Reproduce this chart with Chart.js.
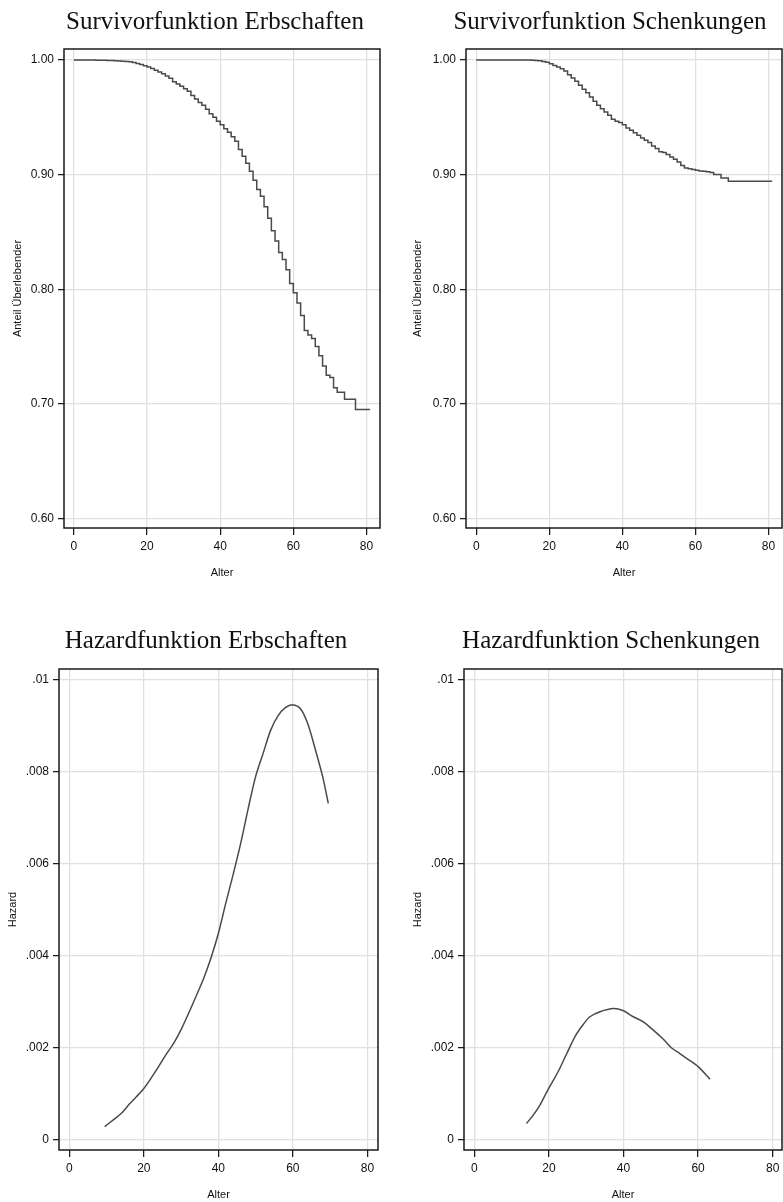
<!DOCTYPE html>
<html>
<head>
<meta charset="utf-8">
<script src="https://cdn.jsdelivr.net/npm/chart.js@4.4.0/dist/chart.umd.min.js"></script>
<style>
  html, body { margin: 0; padding: 0; background: #fff; overflow: hidden; }
  #wrap { position: relative; width: 783px; height: 1202px; overflow: hidden; }
  canvas { position: absolute; }
</style>
</head>
<body>
<div id="wrap">
  <canvas id="survErb" width="430" height="590" style="left:0;top:0"></canvas>
  <canvas id="survSch" width="420" height="590" style="left:400px;top:0"></canvas>
  <canvas id="hazErb" width="412" height="602" style="left:0;top:600px"></canvas>
  <canvas id="hazSch" width="422" height="602" style="left:400px;top:600px"></canvas>
</div>
<script>
// ages 0..81 for the Kaplan-Meier steps
let survAges = [0,1,2,3,4,5,6,7,8,9,10,11,12,13,14,15,16,17,18,19,20,
  21,22,23,24,25,26,27,28,29,30,31,32,33,34,35,36,37,38,39,40,
  41,42,43,44,45,46,47,48,49,50,51,52,53,54,55,56,57,58,59,60,
  61,62,63,64,65,66,67,68,69,70,71,72,73,74,75,76,77,78,79,80,81]

let survErbschaften = [1.0000,1.0000,1.0000,1.0000,1.0000,0.9999,0.9999,0.9998,0.9998,0.9997,0.9996,
  0.9995,0.9994,0.9992,0.9990,0.9988,0.9984,0.9979,0.9970,0.9960,0.9950,
  0.9940,0.9925,0.9910,0.9895,0.9880,0.9860,0.9840,0.9810,0.9790,0.9770,
  0.9750,0.9727,0.9690,0.9660,0.9630,0.9605,0.9570,0.9530,0.9500,0.9466,
  0.9436,0.9400,0.9370,0.9330,0.9290,0.9220,0.9160,0.9100,0.9030,0.8950,
  0.8870,0.8810,0.8720,0.8620,0.8510,0.8420,0.8320,0.8260,0.8170,0.8050,
  0.7970,0.7880,0.7770,0.7640,0.7600,0.7570,0.7500,0.7420,0.7330,0.7250,
  0.7230,0.7140,0.7100,0.7100,0.7040,0.7040,0.7040,0.6950,0.6950,0.6950,0.6950]

let survSchenkungen = [1.0000,1.0000,1.0000,1.0000,1.0000,1.0000,1.0000,1.0000,1.0000,1.0000,1.0000,
  1.0000,1.0000,1.0000,1.0000,0.9999,0.9998,0.9996,0.9993,0.9988,0.9980,
  0.9968,0.9953,0.9939,0.9924,0.9904,0.9872,0.9843,0.9814,0.9780,0.9745,
  0.9715,0.9677,0.9640,0.9605,0.9575,0.9547,0.9518,0.9483,0.9465,0.9454,
  0.9436,0.9407,0.9387,0.9366,0.9343,0.9320,0.9300,0.9280,0.9250,0.9227,
  0.9200,0.9192,0.9175,0.9154,0.9134,0.9110,0.9080,0.9058,0.9052,0.9044,
  0.9038,0.9032,0.9030,0.9024,0.9018,0.9000,0.9000,0.8971,0.8971,0.8943,
  0.8943,0.8943,0.8943,0.8943,0.8943,0.8943,0.8943,0.8943,0.8943,0.8943,0.8943]

let hazErbAges = [9.5,12,14,16,18,20,22,24,26,28,30,32,34,36,38,40,42,44,46,48,50,52,54,56,58,60,62,64,66,68,69.5]
let hazErbschaften = [0.00029,0.00045,0.00058,0.00077,0.00094,0.00112,0.00135,0.00160,0.00186,0.00210,
  0.00240,0.00275,0.00312,0.00350,0.00395,0.00449,0.00515,0.00578,0.00645,0.00720,
  0.00790,0.00840,0.00890,0.00922,0.00940,0.00946,0.00938,0.00905,0.00850,0.00790,0.00732]

let hazSchAges = [14,15.8,17.6,19.8,22.5,24.8,27,29.1,31,33.7,37.3,40,42.6,45.3,48,50.7,52.9,55.1,57.4,60.1,63.2]
let hazSchenkungen = [0.00036,0.00054,0.00076,0.00110,0.00149,0.00188,0.00225,0.00250,0.00268,0.00279,
  0.00286,0.00281,0.00268,0.00257,0.00239,0.00219,0.00200,0.00188,0.00175,0.00159,0.00132]

let xTicks = [0, 20, 40, 60, 80]
let survTicks = [0.6, 0.7, 0.8, 0.9, 1.0]
let survTickLabels = ["0.60", "0.70", "0.80", "0.90", "1.00"]
let hazTicks = [0, 0.002, 0.004, 0.006, 0.008, 0.01]
let hazTickLabels = ["0", ".002", ".004", ".006", ".008", ".01"]

let lineColor = "#4a4a4a"
let gridColor = "#e0e0e0"

let frame = {
  id: "frame",
  afterDraw(chart) {
    let a = chart.chartArea
    let ctx = chart.ctx
    ctx.save()
    ctx.strokeStyle = "#1a1a1a"
    ctx.lineWidth = 1.5
    ctx.strokeRect(a.left, a.top, a.right - a.left, a.bottom - a.top)
    ctx.restore()
  }
}

function labelFor(ticks, labels) {
  return (v) => {
    let i = ticks.findIndex(t => Math.abs(t - v) < 1e-9)
    return i < 0 ? "" : labels[i]
  }
}

// the empty right axis ("spacer") widens the title box so the title sits where Stata put it
function makePanel(p) {
  let points = p.xs.map((x, i) => ({ x: x, y: p.ys[i] }))
  return new Chart(document.getElementById(p.id), {
    type: "line",
    data: {
      datasets: [{
        data: points,
        borderColor: lineColor,
        borderWidth: 1.5,
        pointRadius: 0,
        stepped: p.stepped ? "after" : false,
        tension: p.stepped ? 0 : 0.3,
        fill: false,
      }]
    },
    options: {
      responsive: false,
      animation: false,
      layout: { padding: 0 },
      plugins: {
        legend: { display: false },
        tooltip: { enabled: false },
        title: {
          display: true,
          text: p.title,
          color: "#111",
          font: { family: "'Liberation Serif', serif", size: 25, weight: "normal", lineHeight: 1.2 },
          padding: { top: p.titleTop, bottom: p.titleBottom },
        },
      },
      scales: {
        x: {
          type: "linear",
          min: p.xmin,
          max: p.xmax,
          afterBuildTicks: s => { s.ticks = xTicks.map(v => ({ value: v })) },
          afterFit: s => { s.height = p.xHeight },
          grid: { color: gridColor, lineWidth: 1.3, tickColor: "#111", tickLength: 7, tickWidth: 1.2 },
          border: { display: false },
          ticks: { color: "#111", padding: 4, maxRotation: 0, font: { family: "'Liberation Sans', Arial", size: 12 } },
          title: {
            display: true, text: "Alter", color: "#111",
            font: { family: "'Liberation Sans', Arial", size: 11 },
            padding: { top: 0, bottom: p.xTitlePad },
          },
        },
        y: {
          type: "linear",
          min: p.ymin,
          max: p.ymax,
          afterBuildTicks: s => { s.ticks = p.yTicks.map(v => ({ value: v })) },
          afterFit: s => { s.width = p.yWidth },
          grid: { color: gridColor, lineWidth: 1.3, tickColor: "#111", tickLength: 6, tickWidth: 1.2 },
          border: { display: false },
          ticks: {
            color: "#111", padding: 4,
            font: { family: "'Liberation Sans', Arial", size: 12 },
            callback: labelFor(p.yTicks, p.yLabels),
          },
          title: {
            display: true, text: p.yTitle, color: "#111",
            font: { family: "'Liberation Sans', Arial", size: 11 },
            padding: { top: p.yTitlePad, bottom: 0 },
          },
        },
        spacer: {
          type: "linear",
          position: "right",
          afterFit: s => { s.width = p.spacer },
          grid: { display: false, drawTicks: false },
          border: { display: false },
          ticks: { display: false },
        },
      },
    },
    plugins: [frame],
  })
}

makePanel({
  id: "survErb", title: "Survivorfunktion Erbschaften", xs: survAges, ys: survErbschaften, stepped: true,
  spacer: 50, yWidth: 64, xHeight: 62, titleTop: 7.5, titleBottom: 11.5, yTitlePad: 11.4, xTitlePad: 10.1,
  xmin: -2.7, xmax: 83.7, ymin: 0.5916, ymax: 1.0096,
  yTicks: survTicks, yLabels: survTickLabels, yTitle: "Anteil Überlebender",
})

makePanel({
  id: "survSch", title: "Survivorfunktion Schenkungen", xs: survAges, ys: survSchenkungen, stepped: true,
  spacer: 38, yWidth: 66, xHeight: 62, titleTop: 7.5, titleBottom: 11.5, yTitlePad: 11.4, xTitlePad: 10.1,
  xmin: -2.8, xmax: 83.7, ymin: 0.5916, ymax: 1.0096,
  yTicks: survTicks, yLabels: survTickLabels, yTitle: "Anteil Überlebender",
})

makePanel({
  id: "hazErb", title: "Hazardfunktion Erbschaften", xs: hazErbAges, ys: hazErbschaften, stepped: false,
  spacer: 34, yWidth: 59, xHeight: 52, titleTop: 26.5, titleBottom: 12.5, yTitlePad: 5.9, xTitlePad: 0.4,
  xmin: -2.76, xmax: 82.85, ymin: -0.000217, ymax: 0.01024,
  yTicks: hazTicks, yLabels: hazTickLabels, yTitle: "Hazard",
})

makePanel({
  id: "hazSch", title: "Hazardfunktion Schenkungen", xs: hazSchAges, ys: hazSchenkungen, stepped: false,
  spacer: 40, yWidth: 64, xHeight: 52, titleTop: 26.5, titleBottom: 12.5, yTitlePad: 10.9, xTitlePad: 0.4,
  xmin: -2.76, xmax: 82.5, ymin: -0.000217, ymax: 0.01024,
  yTicks: hazTicks, yLabels: hazTickLabels, yTitle: "Hazard",
})
</script>
</body>
</html>
